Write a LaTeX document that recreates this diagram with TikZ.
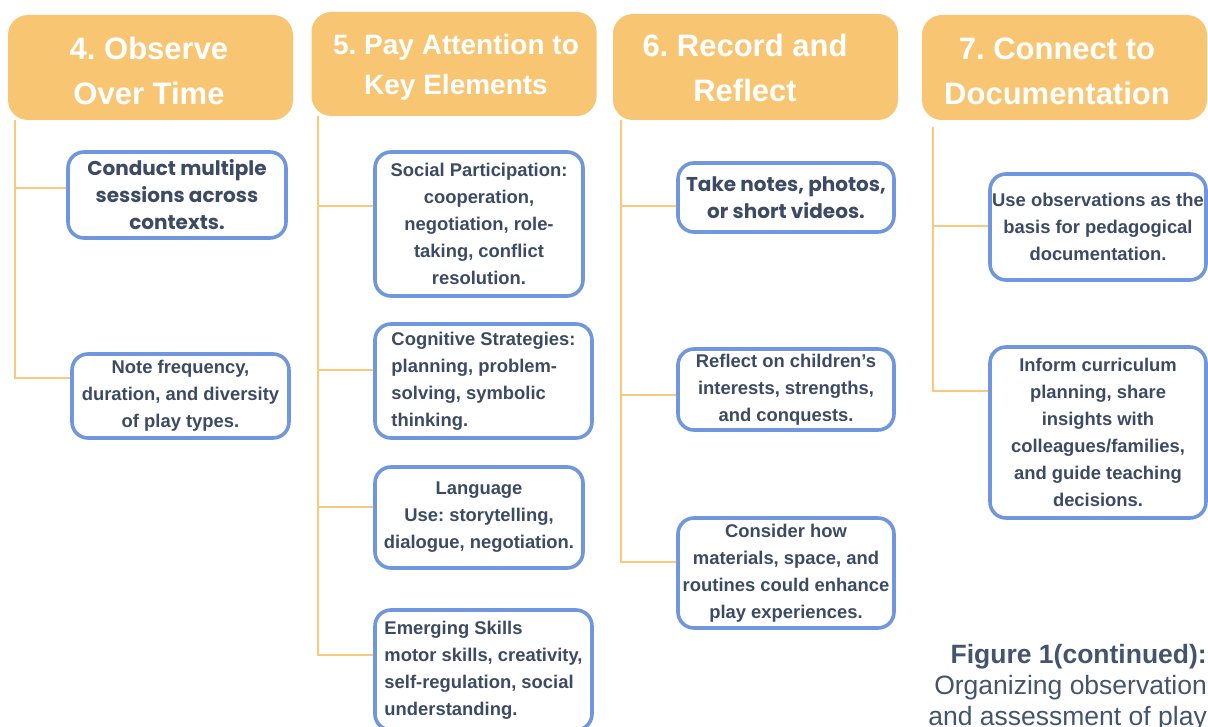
\documentclass[tikz,border=0pt]{standalone}
\usepackage{fontspec}
\setmainfont{Liberation Sans}
\newfontfamily\popfont{Poppins}
\frenchspacing
\definecolor{hdrfill}{RGB}{248,197,114}
\definecolor{cardline}{RGB}{112,150,222}
\definecolor{inktext}{RGB}{61,74,100}
\definecolor{linkline}{RGB}{249,200,122}
\definecolor{captext}{RGB}{69,84,110}
\tikzset{
  hdr/.style={fill=hdrfill, rounded corners=20pt, minimum width=285pt, minimum height=105pt, inner sep=0pt},
  hdrtext/.style={text=white, font=\fontsize{31}{45}\selectfont\bfseries, align=center, inner sep=0pt},
  card/.style={draw=cardline, fill=white, line width=3.6pt, rounded corners=16pt,
    text=inktext, font=\fontsize{18.4}{27}\selectfont\bfseries, align=center, inner sep=0pt},
  popcard/.style={card, font=\popfont\fontsize{20}{27}\selectfont\bfseries},
  leftcard/.style={card, align=left},
  link/.style={draw=linkline, line width=2pt},
}
\begin{document}
\begin{tikzpicture}[x=1pt,y=-1pt]
\useasboundingbox (0,0) rectangle (1208,727);
\fill[white] (0,0) rectangle (1208,727);

% column headers
\node[hdr] (h4) at (150.5,67.5) {};
\node[hdr, minimum height=104pt] (h5) at (454,64) {};
\node[hdr, minimum height=106pt] (h6) at (755.5,67) {};
\node[hdr] (h7) at (1064.5,67.5) {};
\node[hdrtext] (h4t) at (149,71) {4. Observe\\Over Time};
\node[hdrtext, font=\fontsize{28}{40}\selectfont\bfseries] (h5t) at (456,67.5) {5. Pay Attention to\\Key Elements};
\node[hdrtext] (h6t) at (745,68) {6. Record and\\Reflect};
\node[hdrtext] (h7t) at (1057,71) {7. Connect to\\Documentation};

% spine tops
\coordinate (t4) at ([xshift=7pt]h4.south west);
\coordinate (t5) at ([xshift=7pt]h5.south west);
\coordinate (t6) at ([xshift=8pt]h6.south west);
\coordinate (t7) at ([xshift=11pt,yshift=-7pt]h7.south west);

% column 4
\node[popcard, minimum width=218pt, minimum height=86pt] (b4a) at (177,195)
  {Conduct multiple\\sessions across\\contexts.};
\node[card, minimum width=217pt, minimum height=84pt] (b4b) at (180.5,396)
  {Note frequency,\\duration, and diversity\\of play types.};

% column 5
\node[card, minimum width=208pt, minimum height=144pt] (b5a) at (479,224)
  {Social Participation:\\cooperation,\\negotiation, role-\\taking, conflict\\resolution.};
\node[leftcard, minimum width=217pt, minimum height=114pt] (b5b) at (483.5,381)
  {Cognitive Strategies:\\planning, problem-\\solving, symbolic\\thinking.};
\node[card, minimum width=208pt, minimum height=101pt] (b5c) at (479,517.5)
  {Language\\Use: storytelling,\\dialogue, negotiation.};
\node[leftcard, minimum width=217pt, minimum height=120pt] (b5d) at (483.5,670)
  {Emerging Skills\\motor skills, creativity,\\self-regulation, social\\understanding.};

% column 6
\node[popcard, minimum width=216pt, minimum height=69pt] (b6a) at (786,197.5)
  {Take notes, photos,\\or short videos.};
\node[card, minimum width=216pt, minimum height=81pt] (b6b) at (786,389.5)
  {Reflect on children’s\\interests, strengths,\\and conquests.};
\node[card, minimum width=216pt, minimum height=110pt] (b6c) at (786,573)
  {Consider how\\materials, space, and\\routines could enhance\\play experiences.};

% column 7
\node[card, minimum width=216pt, minimum height=106pt] (b7a) at (1098,227)
  {Use observations as the\\basis for pedagogical\\documentation.};
\node[card, minimum width=216pt, minimum height=171pt] (b7b) at (1098,432.5)
  {Inform curriculum\\planning, share\\insights with\\colleagues/families,\\and guide teaching\\decisions.};

% connectors: spine and branches
\draw[link] (t4) |- ([yshift=18pt]b4b.west);
\draw[link] (t4 |- b4a.west) ++(0,-7) -- ([yshift=7pt]b4a.west);

\draw[link] (t5) |- ([yshift=15pt]b5d.west);
\draw[link] (t5 |- b5a.west) ++(0,-18) -- ([yshift=18pt]b5a.west);
\draw[link] (t5 |- b5b.west) ++(0,-11) -- ([yshift=11pt]b5b.west);
\draw[link] (t5 |- b5c.west) ++(0,-10.5) -- ([yshift=10.5pt]b5c.west);

\draw[link] (t6) |- ([yshift=11pt]b6c.west);
\draw[link] (t6 |- b6a.west) ++(0,8.5) -- ([yshift=-8.5pt]b6a.west);
\draw[link] (t6 |- b6b.west) ++(0,5.5) -- ([yshift=-5.5pt]b6b.west);

\draw[link] (t7) |- ([yshift=41.5pt]b7b.west);
\draw[link] (t7 |- b7a.west) ++(0,-1) -- ([yshift=1pt]b7a.west);

% caption
\node[anchor=north east, align=right, text=captext, inner sep=0pt,
  font=\fontsize{26.5}{31}\selectfont] (cap) at (1207,644)
  {\textbf{Figure 1(continued):}\\Organizing observation\\and assessment of play};
\end{tikzpicture}
\end{document}
